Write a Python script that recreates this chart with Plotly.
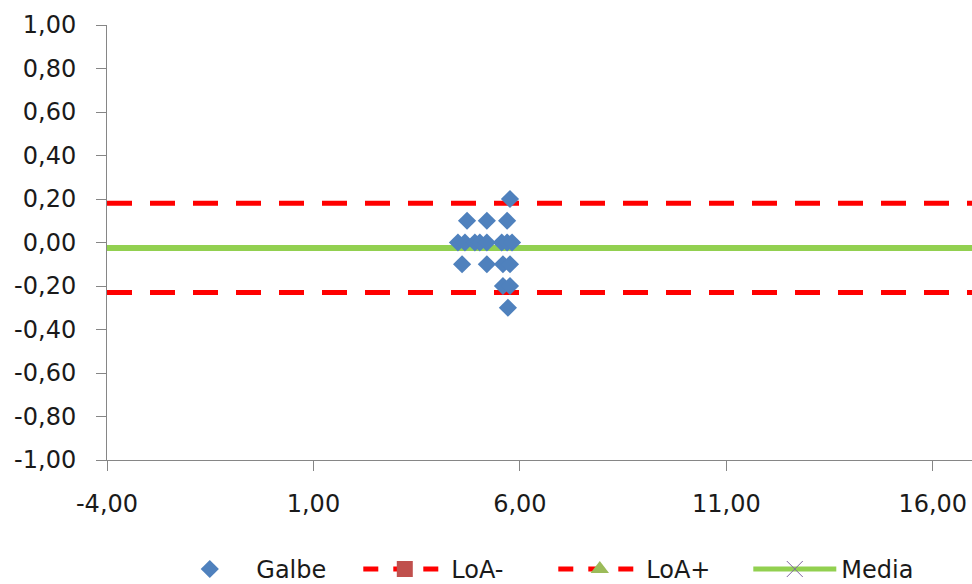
import plotly.graph_objects as go

# Data
galbe_x = [5.76, 4.72, 5.20, 5.69, 4.50, 4.67, 4.91, 5.03, 5.20, 5.56, 5.69, 5.81,
           4.60, 5.20, 5.59, 5.76, 5.59, 5.76, 5.71]
galbe_y = [0.20, 0.10, 0.10, 0.10, 0.00, 0.00, 0.00, 0.00, 0.00, 0.00, 0.00, 0.00,
           -0.10, -0.10, -0.10, -0.10, -0.20, -0.20, -0.30]
line_x = [-4, 21]
loa_minus = [-0.23, -0.23]
loa_plus = [0.18, 0.18]
media = [-0.025, -0.025]

x_tickvals = [-4, 1, 6, 11, 16]
x_ticktext = ["-4,00", "1,00", "6,00", "11,00", "16,00"]
y_tickvals = [-1.0, -0.8, -0.6, -0.4, -0.2, 0.0, 0.2, 0.4, 0.6, 0.8, 1.0]
y_ticktext = ["-1,00", "-0,80", "-0,60", "-0,40", "-0,20", "0,00",
              "0,20", "0,40", "0,60", "0,80", "1,00"]

FONT = "DejaVu Sans"
AX = "#868686"

fig = go.Figure()
fig.add_trace(go.Scatter(x=line_x, y=loa_minus, mode="lines", showlegend=False,
                         line=dict(color="#FF0000", width=5, dash="25px,18px")))
fig.add_trace(go.Scatter(x=line_x, y=loa_plus, mode="lines", showlegend=False,
                         line=dict(color="#FF0000", width=5, dash="25px,18px")))
fig.add_trace(go.Scatter(x=line_x, y=media, mode="lines", showlegend=False,
                         line=dict(color="#92D050", width=6)))
fig.add_trace(go.Scatter(x=galbe_x, y=galbe_y, mode="markers", name="Galbe",
                         marker=dict(symbol="diamond", size=14, color="#4F81BD")))
# legend entries
fig.add_trace(go.Scatter(x=[None], y=[None], mode="lines+markers", name="LoA-",
                         line=dict(color="#FF0000", width=5, dash="dash"),
                         marker=dict(symbol="square", size=16, color="#C0504D")))
fig.add_trace(go.Scatter(x=[None], y=[None], mode="lines+markers", name="LoA+",
                         line=dict(color="#FF0000", width=5, dash="dash"),
                         marker=dict(symbol="triangle-up", size=16, color="#9BBB59")))
fig.add_trace(go.Scatter(x=[None], y=[None], mode="lines+markers", name="Media",
                         line=dict(color="#92D050", width=5),
                         marker=dict(symbol="x-thin", size=16, color="#8064A2",
                                     line=dict(width=1, color="#8064A2"))))

fig.update_layout(
    width=972, height=584,
    margin=dict(l=107, r=0, t=25, b=124),
    paper_bgcolor="white", plot_bgcolor="white",
    font=dict(family=FONT, size=24, color="#1a1a1a"),
    showlegend=True,
    legend=dict(orientation="h", xref="container", yref="container",
                x=0.168, xanchor="left", y=0.025, yanchor="middle",
                font=dict(family=FONT, size=24, color="#1a1a1a"),
                entrywidth=97, itemwidth=83, traceorder="normal"),
    xaxis=dict(range=[-4, 16.95], tickvals=x_tickvals, ticktext=x_ticktext,
               automargin=False,
               showgrid=False, zeroline=False, showline=True, linecolor=AX, linewidth=1,
               ticks="outside", ticklen=10, tickcolor=AX, ticklabelstandoff=12),
    yaxis=dict(range=[-1, 1], tickvals=y_tickvals, ticktext=y_ticktext,
               automargin=False,
               showgrid=False, zeroline=False, showline=True, linecolor=AX, linewidth=1,
               ticks="outside", ticklen=10, tickcolor=AX, ticklabelstandoff=15),
)

fig.write_html("out.html", config={"displayModeBar": False},
               post_script="document.body.style.margin='0';document.body.style.overflow='hidden';")
